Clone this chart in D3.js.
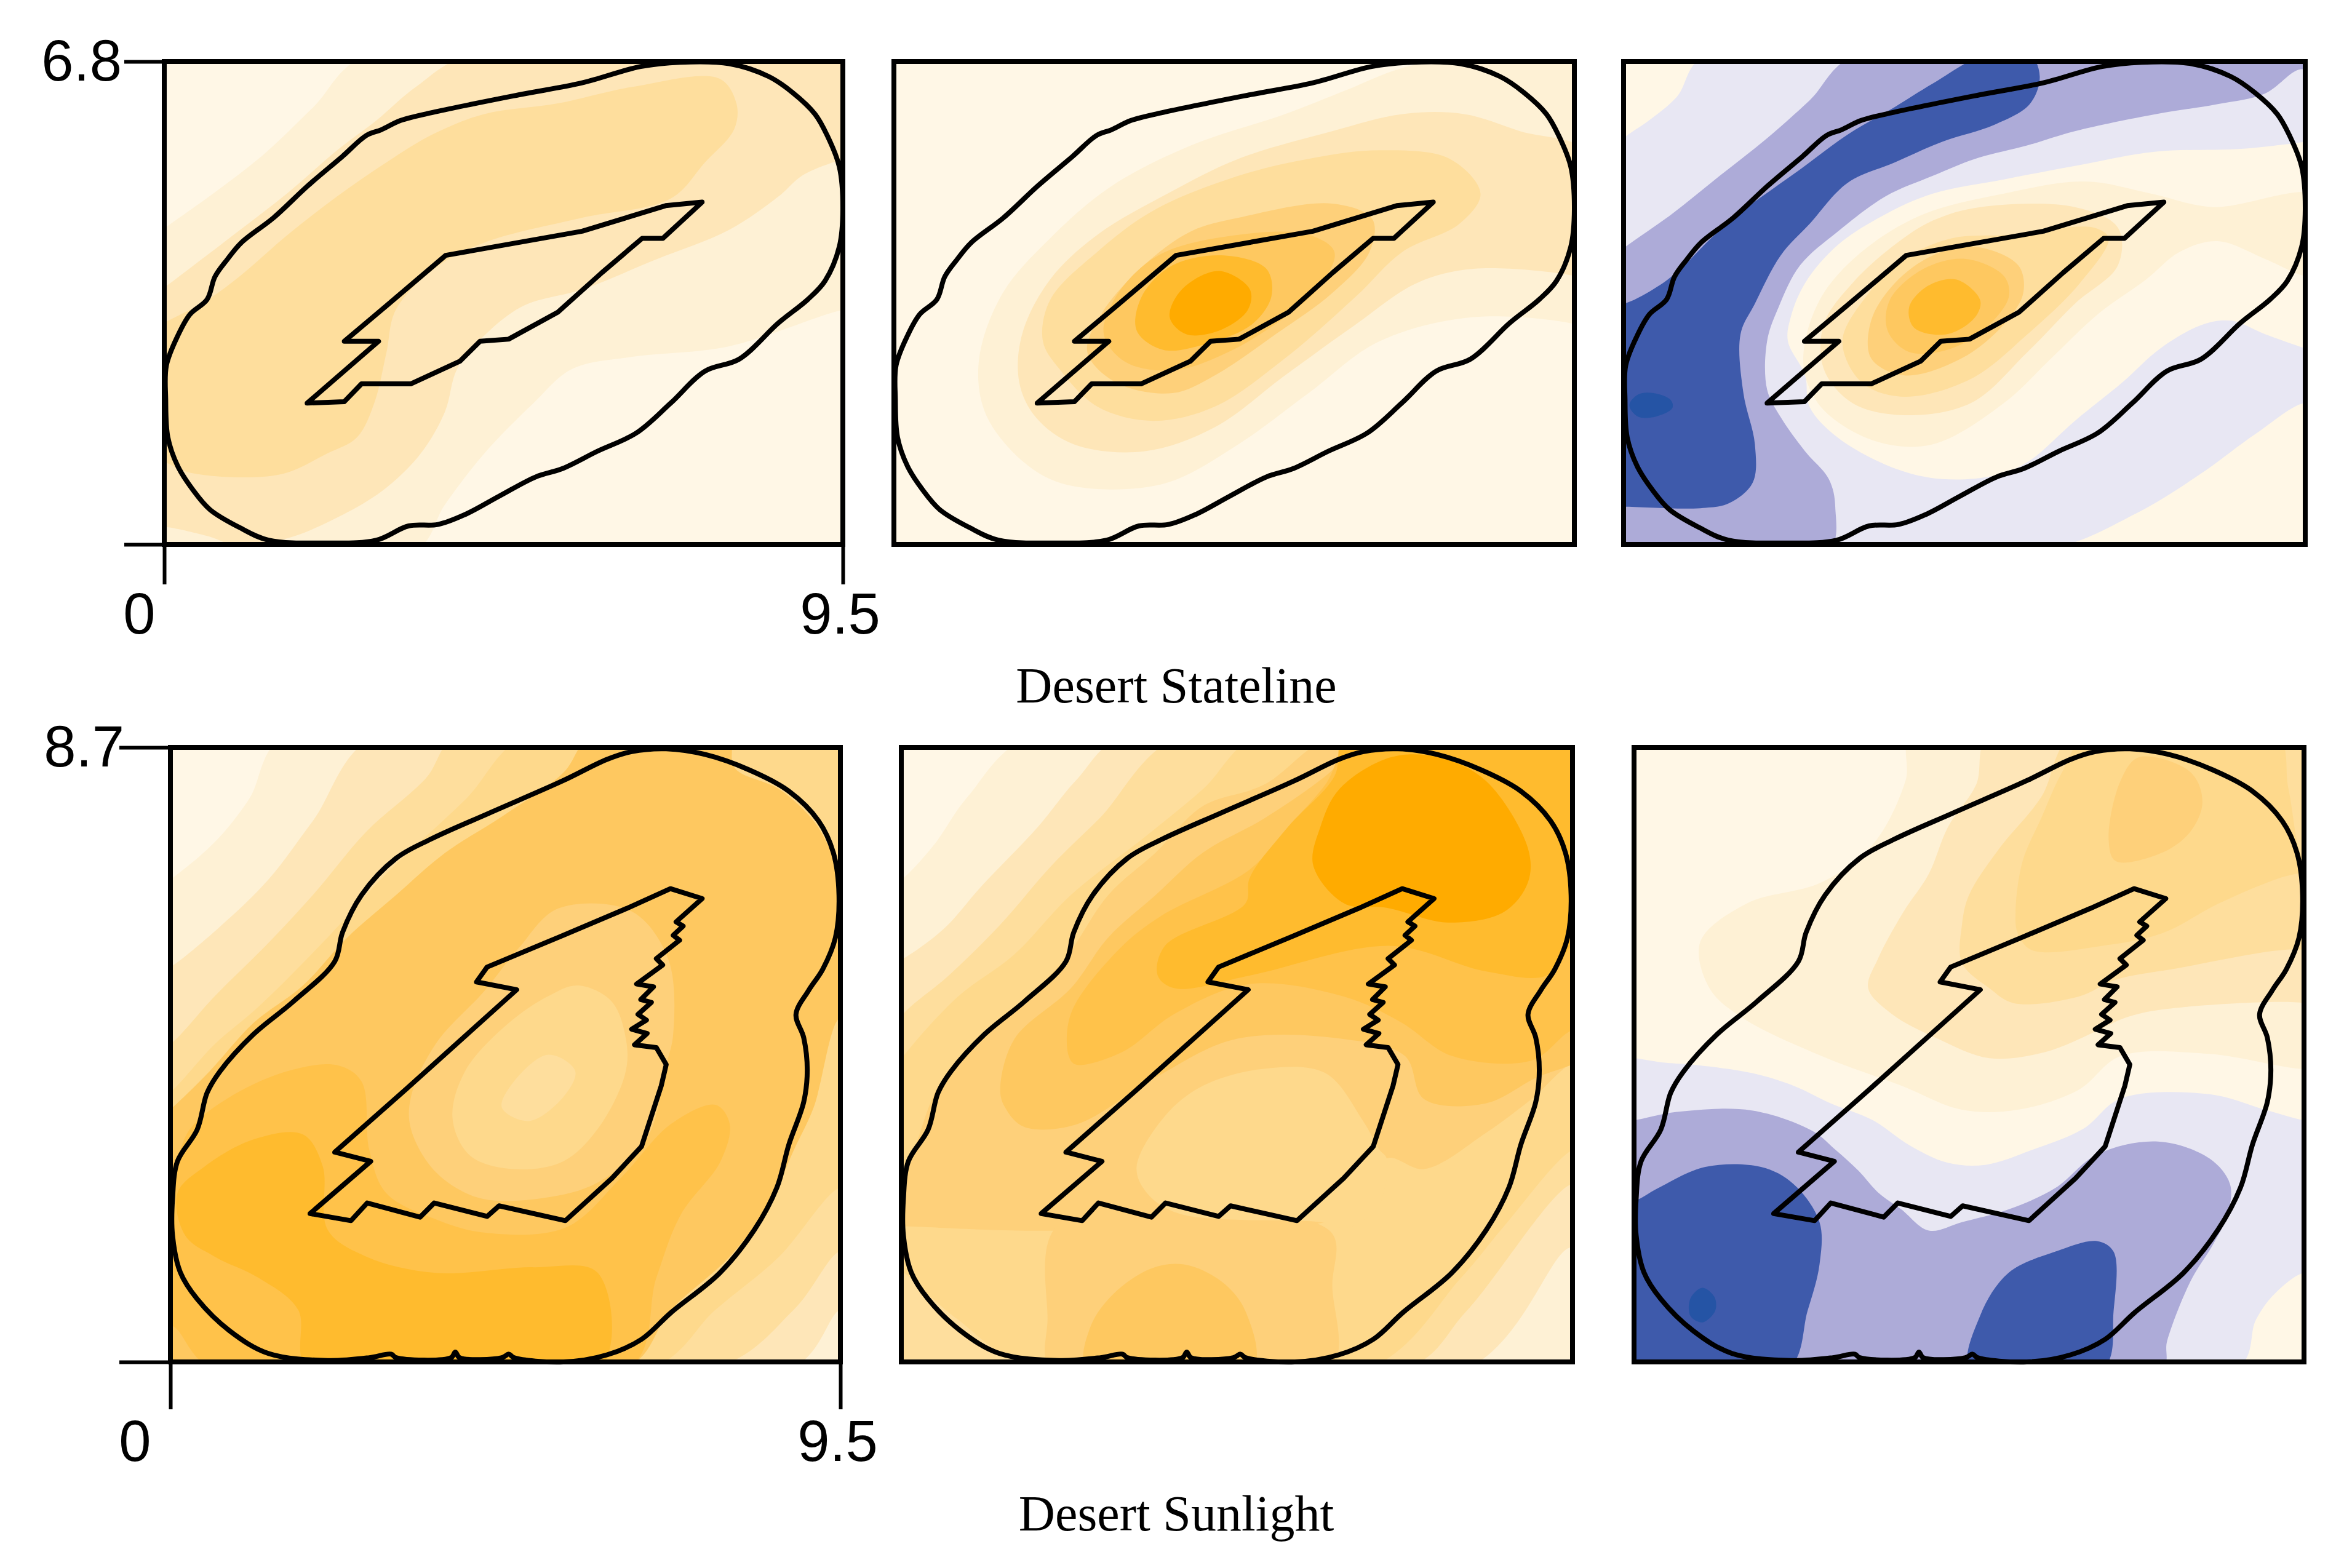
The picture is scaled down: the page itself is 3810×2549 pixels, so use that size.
<!DOCTYPE html>
<html>

<head>
    <meta charset="utf-8" />
    <title>Desert Stateline and Desert Sunlight</title>
    <style>
        html, body {
            margin: 0;
            padding: 0;
            background: #fff;
        }
    </style>
</head>

<body>
    <svg width="3810" height="2549"></svg>
    <script src="https://d3js.org/d3.v7.min.js"></script>
    <script>
        // site extents, as labelled on the axes
        var xMax = 9.5,
            yMaxStateline = 6.8,
            yMaxSunlight = 8.7;

        var captions = ["Desert Stateline", "Desert Sunlight"];
        var tickLabelsX = ["0", "9.5"];
        var tickLabelsY = ["6.8", "8.7"];

        // band classes: -4 strongest blue ... 0 neutral ... 9 strongest orange
        var bandLevels = [-4, -3, -2, -1, 0, 1, 2, 3, 4, 5, 6, 7, 8, 9];
        var bandColors = ["#2554A5", "#3E5AAB", "#ADABD8", "#E8E7F3", "#FFF7E6", "#FEF1D5", "#FEE6B8", "#FEDE9D",
            "#FED98C", "#FED07A", "#FEC860", "#FFC24A", "#FFBB2E", "#FFAB00"];

        // site boundaries, in axis units
        var statelineOuter = [[6.67,6.73],[7.22,6.79],[7.91,6.77],[8.46,6.59],[8.80,6.36],[9.11,6.06],[9.28,5.76],[9.45,5.32],[9.50,4.72],[9.45,4.19],[9.25,3.71],[9.01,3.45],[8.60,3.12],[8.05,2.61],[7.57,2.44],[7.09,1.99],[6.61,1.57],[6.06,1.31],[5.58,1.07],[5.20,0.95],[4.69,0.68],[4.21,0.42],[3.83,0.28],[3.42,0.26],[2.97,0.06],[2.28,0.02],[1.46,0.06],[1.05,0.24],[0.64,0.49],[0.40,0.77],[0.19,1.10],[0.05,1.51],[0.02,2.05],[0.03,2.52],[0.19,2.94],[0.36,3.24],[0.60,3.45],[0.71,3.77],[0.88,4.01],[1.08,4.25],[1.53,4.60],[2.01,5.05],[2.49,5.46],[2.83,5.76],[3.04,5.84],[3.31,5.97],[3.79,6.09],[4.96,6.33],[5.85,6.50]];
        var statelineInner = [[3.94,4.07],[5.85,4.41],[7.02,4.77],[7.53,4.82],[6.98,4.31],[6.69,4.31],[6.13,3.83],[5.51,3.27],[4.82,2.89],[4.42,2.86],[4.14,2.58],[3.45,2.26],[2.76,2.26],[2.52,2.01],[2.00,1.99],[3.00,2.86],[2.52,2.86],[3.11,3.36]];
        var sunlightOuter = [[6.19,8.53],[6.54,8.64],[7.03,8.68],[7.58,8.60],[8.21,8.38],[8.77,8.08],[9.19,7.66],[9.40,7.21],[9.48,6.61],[9.43,6.01],[9.25,5.56],[9.05,5.26],[8.87,4.92],[8.98,4.59],[9.03,4.13],[8.98,3.68],[8.77,3.08],[8.60,2.47],[8.28,1.87],[7.79,1.26],[7.10,0.70],[6.68,0.32],[6.19,0.10],[5.57,0.00],[4.87,0.06],[4.80,0.11],[4.70,0.06],[4.10,0.06],[4.04,0.14],[3.98,0.06],[3.20,0.06],[3.13,0.11],[2.82,0.06],[2.23,0.02],[1.39,0.12],[0.84,0.44],[0.38,0.89],[0.14,1.27],[0.03,1.79],[0.03,2.31],[0.10,2.84],[0.38,3.29],[0.52,3.81],[0.70,4.11],[1.18,4.64],[1.74,5.10],[2.33,5.67],[2.44,6.08],[2.71,6.61],[3.20,7.13],[3.69,7.40],[4.52,7.77],[5.57,8.23]];
        var sunlightInner = [[4.49,5.59],[5.50,6.01],[6.47,6.42],[7.09,6.70],[7.54,6.56],[7.17,6.23],[7.27,6.17],[7.13,6.04],[7.22,5.97],[6.89,5.71],[6.98,5.62],[6.61,5.35],[6.85,5.31],[6.67,5.13],[6.82,5.09],[6.63,4.92],[6.75,4.84],[6.54,4.71],[6.76,4.65],[6.58,4.49],[6.89,4.45],[7.03,4.21],[6.96,3.91],[6.68,3.05],[6.26,2.60],[5.60,2.00],[4.66,2.21],[4.49,2.06],[3.74,2.25],[3.54,2.05],[2.79,2.25],[2.56,2.00],[1.98,2.10],[2.84,2.84],[2.33,2.97],[3.34,3.86],[4.91,5.27],[4.34,5.38]];

        // filled classes per panel, painted in order: [level, boundary]
        var statelineA = [
            [1, [[-.2,4.3],[0,4.45],[.71,4.96],[1.39,5.49],[2.08,6.15],[2.85,6.9],[9.7,6.9],[9.7,3.3],[9.5,3.30],[7.91,2.79],[6.54,2.64],[5.71,2.47],[5.17,1.99],[4.48,1.28],[3.93,.56],[3.5,-.1],[-.2,-.1]]],
            [2, [[-.2,3.5],[0,3.62],[.36,3.89],[1.05,4.42],[1.74,4.96],[2.42,5.55],[2.97,5.97],[3.52,6.44],[4.3,6.9],[9.7,6.9],[9.7,5.5],[9.5,5.43],[8.94,5.20],[8.60,4.90],[7.91,4.43],[6.88,4.01],[5.85,3.59],[5.03,3.36],[4.48,2.94],[4.10,2.47],[3.93,1.87],[3.59,1.28],[3.11,.80],[2.56,.45],[1.74,.09],[1.05,-.02],[.6,.12],[0,.25],[-.2,.25]]],
            [3, [[-.2,3.0],[0,3.12],[.57,3.42],[1.05,3.77],[1.74,4.37],[2.42,4.90],[3.11,5.38],[3.79,5.79],[4.48,6.06],[5.51,6.21],[6.54,6.44],[7.77,6.56],[8.01,6.21],[7.98,5.85],[7.57,5.38],[7.09,4.87],[5.85,4.60],[4.48,4.25],[3.79,3.89],[3.24,3.30],[3.11,2.70],[2.94,1.99],[2.70,1.51],[2.28,1.28],[1.60,.98],[.36,1.01],[0,1.16],[-.2,1.2]]]
        ];
        var statelineB = [
            [1, [[8.2,6.9],[9.7,6.9],[9.7,3],[9.5,3.10],[8.09,3.20],[6.78,2.86],[5.79,2.13],[4.81,1.41],[3.82,.87],[2.84,.78],[2.18,.92],[1.65,1.31],[1.26,1.89],[1.19,2.62],[1.52,3.54],[2.18,4.31],[3.03,5.04],[4.15,5.62],[5.46,6.06],[6.32,6.40],[7.10,6.71]]],
            [2, [[7.10,6.06],[7.96,6.06],[8.74,5.82],[9.7,5.5],[9.7,3.7],[9.5,3.78],[8.09,3.88],[7.30,3.68],[6.45,3.10],[5.46,2.38],[4.48,1.65],[3.49,1.31],[2.51,1.41],[1.98,1.79],[1.75,2.28],[1.79,2.96],[2.18,3.73],[2.84,4.36],[3.82,4.94],[4.81,5.43],[6.12,5.82]]],
            [3, [[6.78,5.55],[7.76,5.43],[8.19,4.94],[7.89,4.51],[7.10,4.12],[6.45,3.49],[5.46,2.62],[4.48,1.94],[3.62,1.74],[2.84,1.94],[2.31,2.47],[2.08,2.86],[2.18,3.44],[2.84,4.12],[3.62,4.70],[4.81,5.19],[5.79,5.43]]],
            [5, [[4.81,4.60],[6.12,4.80],[6.68,4.58],[6.64,4.12],[6.12,3.54],[5.33,2.96],[4.48,2.38],[3.89,2.13],[3.10,2.28],[2.70,2.71],[2.90,3.25],[3.49,3.93],[4.15,4.41]]],
            [6, [[4.81,4.36],[5.79,4.36],[6.15,4.12],[5.95,3.64],[5.46,3.20],[4.67,2.71],[3.89,2.45],[3.23,2.57],[2.93,2.96],[3.10,3.49],[3.69,4.07]]],
            [8, [[4.61,4.07],[5.20,3.88],[5.27,3.49],[5.00,3.10],[4.41,2.84],[3.76,2.74],[3.39,3.01],[3.46,3.49],[3.89,3.93]]],
            [9, [[4.54,3.85],[4.97,3.59],[4.94,3.30],[4.54,3.01],[4.08,2.96],[3.85,3.20],[4.02,3.59]]]
        ];
        var statelineC = [
            [-1, [[-.2,5.5],[0,5.72],[.34,5.96],[.74,6.30],[1.15,6.9],[9.7,6.9],[9.7,1.9],[9.5,1.99],[8.80,1.55],[8.08,1.02],[7.15,.44],[5.8,-.1],[-.2,-.1]]],
            [-2, [[-.2,4.0],[0,4.17],[.67,4.65],[1.34,5.19],[2.00,5.72],[2.59,6.25],[3.25,6.9],[9.7,6.9],[9.7,6.6],[9.43,6.69],[8.94,6.35],[8.28,6.20],[7.42,6.06],[6.29,5.82],[5.63,5.62],[4.90,5.43],[4.31,5.19],[3.65,4.90],[2.99,4.41],[2.46,3.93],[2.16,3.34],[2.00,2.86],[2.00,2.18],[2.19,1.79],[2.53,1.31],[2.86,.92],[2.95,.53],[2.85,-.1],[-.2,-.1]]],
            [-3, [[-.2,3.4],[0,3.39],[.41,3.59],[.74,3.83],[1.27,4.36],[1.73,4.75],[2.46,5.28],[3.12,5.77],[3.78,6.16],[4.31,6.49],[5.05,6.9],[5.66,6.9],[5.80,6.59],[5.66,6.20],[5.17,5.91],[4.44,5.67],[3.78,5.38],[3.12,5.09],[2.59,4.51],[2.19,4.07],[1.83,3.39],[1.63,2.96],[1.67,2.13],[1.83,1.41],[1.80,.87],[1.47,.58],[1.07,.51],[0,.53],[-.2,.53]]],
            [-4, [[.08,1.96],[.2,2.11],[.42,2.13],[.66,2.03],[.68,1.92],[.45,1.80],[.2,1.8]]],
            [0, [[9.7,5.7],[9.5,5.67],[8.61,5.57],[7.42,5.53],[6.29,5.33],[5.30,5.14],[4.31,4.94],[3.65,4.65],[2.99,4.22],[2.53,3.68],[2.33,3.20],[2.29,2.86],[2.53,2.38],[2.59,1.94],[2.99,1.50],[3.78,1.07],[4.44,.92],[5.17,.97],[5.63,1.16],[6.29,1.74],[6.95,2.28],[7.48,2.76],[8.08,3.10],[8.47,3.15],[8.94,2.96],[9.5,2.76],[9.7,2.7]]],
            [1, [[6.43,5.11],[7.35,4.94],[8.21,4.75],[9.7,4.9],[9.7,3.8],[9.5,3.78],[8.94,4.02],[8.28,4.27],[7.75,4.12],[7.28,3.73],[6.62,3.25],[5.96,2.62],[5.30,1.99],[4.31,1.41],[3.52,1.45],[2.79,1.89],[2.53,2.38],[2.53,2.86],[2.79,3.54],[3.38,4.17],[4.18,4.65],[5.30,4.94]]],
            [2, [[4.97,4.75],[6.29,4.75],[6.89,4.46],[6.89,3.93],[6.29,3.39],[5.63,2.71],[4.84,1.99],[3.91,1.82],[3.19,1.99],[2.79,2.47],[2.79,3.10],[3.19,3.68],[3.78,4.22],[4.31,4.56]]],
            [3, [[5.37,4.36],[6.56,4.46],[6.76,4.31],[6.36,3.68],[5.63,2.96],[4.84,2.33],[3.91,2.08],[3.32,2.28],[3.05,2.86],[3.38,3.49],[3.91,4.02],[4.57,4.31]]],
            [5, [[4.90,4.19],[5.50,3.93],[5.57,3.54],[5.30,3.10],[4.71,2.62],[3.91,2.38],[3.45,2.62],[3.45,3.15],[3.78,3.68],[4.31,4.07]]],
            [6, [[4.77,4.02],[5.30,3.78],[5.37,3.49],[5.10,3.10],[4.57,2.76],[3.98,2.71],[3.68,3.01],[3.71,3.44],[4.18,3.88]]],
            [8, [[4.64,3.73],[4.97,3.44],[4.90,3.20],[4.51,2.96],[4.05,3.05],[3.98,3.34],[4.24,3.64]]]
        ];
        var sunlightA = [
            [1, [[-.2,6.7],[.03,6.85],[.63,7.36],[1.11,7.96],[1.65,8.9],[9.7,8.9],[9.7,-.1],[-.2,-.1]]],
            [2, [[-.2,5.5],[0,5.59],[.70,6.16],[1.39,6.83],[2.02,7.66],[2.95,8.9],[9.7,8.9],[9.7,.7],[9.5,.74],[8.8,-.1],[-.2,-.1]]],
            [3, [[-.2,4.4],[0,4.50],[.63,5.18],[1.32,5.86],[2.02,6.61],[2.78,7.51],[3.62,8.26],[4.1,8.9],[9.7,8.9],[9.7,1.5],[9.5,1.57],[8.84,.74],[7.7,-.1],[-.2,-.1]]],
            [4, [[-.2,3.7],[0,3.82],[.63,4.50],[1.25,5.03],[2.23,6.01],[3.06,6.91],[4.18,7.96],[5.1,8.9],[9.7,8.9],[9.7,2.4],[9.5,2.47],[8.63,1.49],[7.73,.74],[6.8,-.1],[-.2,-.1]]],
            [6, [[-.2,3.4],[.03,3.60],[.56,4.12],[1.18,4.80],[1.88,5.33],[2.51,6.01],[3.20,6.61],[3.90,7.21],[4.73,7.74],[5.57,8.34],[6.0,8.9],[7.9,8.9],[8.00,8.41],[8.63,8.11],[9.12,7.66],[9.5,7.06],[9.7,7.0],[9.7,4.8],[9.5,4.88],[9.12,3.60],[8.84,3.00],[8.49,2.24],[7.93,1.49],[7.10,.74],[6.45,-.1],[-.2,-.1]]],
            [7, [[-.2,2.6],[0,2.69],[.28,3.30],[.84,3.75],[1.67,4.12],[2.37,4.20],[2.71,3.97],[2.82,3.00],[3.06,2.39],[3.76,2.02],[4.45,1.83],[5.60,1.90],[6.40,2.62],[7.10,3.37],[7.73,3.64],[7.93,3.37],[7.80,2.84],[7.24,2.09],[6.89,1.19],[6.5,-.1],[.6,-.1],[.03,.51],[-.2,.5]]],
            [8, [[.10,2.39],[.49,2.77],[1.18,3.15],[1.88,3.22],[2.16,2.77],[2.23,1.87],[2.78,1.49],[3.76,1.26],[5.15,1.34],[6.06,1.26],[6.09,-.1],[1.95,-.1],[1.81,.74],[1.25,1.19],[.63,1.49],[.21,1.79]]],
            [5, [[5.50,6.42],[6.54,6.38],[7.06,5.70],[7.13,4.65],[7.03,4.20],[6.75,3.15],[6.06,2.54],[5.29,2.32],[4.38,2.32],[3.76,2.69],[3.41,3.30],[3.41,3.75],[3.76,4.50],[4.45,5.25],[4.94,5.86]]],
            [4, [[5.78,5.33],[6.26,5.10],[6.47,4.50],[6.44,4.05],[6.06,3.30],[5.57,2.84],[4.87,2.73],[4.25,2.92],[4.00,3.45],[4.18,4.12],[4.80,4.80],[5.36,5.18]]],
            [3, [[5.36,4.35],[5.74,4.12],[5.57,3.75],[5.08,3.41],[4.70,3.60],[4.87,3.97]]]
        ];
        var sunlightB = [
            [1, [[-.2,6.7],[.03,6.85],[.47,7.33],[.93,7.99],[1.9,8.9],[9.7,8.9],[9.7,-.1],[-.2,-.1]]],
            [2, [[-.2,5.6],[.03,5.71],[.60,6.13],[1.13,6.73],[1.93,7.57],[2.47,8.23],[3.2,8.9],[9.7,8.9],[9.7,1.5],[9.47,1.62],[8.0,-.1],[-.2,-.1]]],
            [3, [[-.2,4.6],[.03,4.93],[.67,5.47],[1.40,6.19],[2.13,7.03],[2.80,7.69],[4.0,8.9],[9.7,8.9],[9.7,2.4],[9.5,2.52],[8.00,.72],[7.15,-.1],[-.2,-.1]]],
            [4, [[-.2,4.0],[.03,4.33],[.80,5.17],[1.60,5.77],[2.40,6.61],[3.47,7.45],[4.27,8.11],[5.1,8.9],[9.7,8.9],[9.7,3.0],[9.5,3.00],[8.53,1.92],[7.93,1.20],[6.6,-.1],[1.8,-.05],[.80,.60],[.37,.96],[.03,1.26],[-.2,1.3]]],
            [5, [[-.2,2.6],[.03,2.70],[.53,3.91],[1.13,4.57],[2.27,5.65],[2.93,6.61],[3.60,7.21],[4.27,7.87],[5.13,8.17],[6.2,8.9],[9.7,8.9],[9.7,4.1],[9.5,4.21],[8.93,3.73],[8.27,3.24],[7.40,2.73],[6.87,2.88],[6.5,2.15],[2.23,1.86],[.03,1.92],[-.2,1.92]]],
            [5, [[2.23,1.95],[6.07,1.85],[6.10,1.08],[6.07,-.1],[2.13,-.1],[2.07,.60]]],
            [4, [[3.33,2.76],[3.73,3.48],[4.27,3.91],[5.13,4.15],[6.00,4.09],[6.53,3.42],[6.77,3.00],[6.87,2.88],[6.75,2.2],[6.3,1.9],[5.93,1.98],[3.93,2.10],[3.47,2.40]]],
            [6, [[2.63,-.1],[2.67,.48],[3.00,.96],[3.53,1.32],[4.00,1.38],[4.53,1.14],[4.87,.72],[4.97,-.1]]],
            [6, [[1.40,3.85],[1.60,4.57],[2.40,5.29],[2.93,6.01],[3.60,6.61],[4.27,7.21],[5.13,7.69],[6.00,8.29],[6.7,8.9],[9.7,8.9],[9.7,4.3],[9.5,4.21],[9.00,4.03],[8.27,3.66],[7.40,3.72],[7.13,4.33],[6.27,4.57],[4.73,4.57],[3.60,4.03],[2.47,3.36],[1.73,3.33],[1.47,3.60]]],
            [7, [[2.37,4.33],[2.40,4.93],[3.07,5.83],[3.67,6.31],[4.93,6.97],[5.47,7.57],[6.00,8.17],[6.45,8.9],[9.7,8.9],[9.7,4.6],[9.5,4.69],[8.93,4.27],[7.80,4.33],[7.07,4.81],[6.27,5.17],[4.93,5.35],[3.87,4.93],[3.13,4.39],[2.47,4.21]]],
            [8, [[3.63,5.47],[3.73,5.89],[4.87,6.49],[4.93,6.85],[5.47,7.57],[6.13,8.29],[6.30,8.9],[9.7,8.9],[9.7,5.9],[9.5,5.89],[9.13,5.47],[8.27,5.53],[6.93,5.89],[4.93,5.47],[3.87,5.29]]],
            [9, [[5.83,7.03],[5.93,7.57],[6.20,8.11],[6.93,8.56],[7.60,8.56],[8.27,8.23],[8.87,7.27],[8.87,6.79],[8.53,6.37],[7.73,6.22],[6.87,6.43],[6.27,6.49]]]
        ];
        var sunlightC = [
            [1, [[3.95,8.9],[9.7,8.9],[9.7,4.2],[9.5,4.15],[8.16,4.36],[6.90,4.33],[6.30,3.85],[5.44,3.57],[4.65,3.57],[3.79,3.91],[2.66,4.33],[1.54,4.87],[1.07,5.29],[.94,5.95],[1.60,6.49],[2.66,6.79],[3.39,7.33],[3.85,8.23]]],
            [2, [[5.05,8.9],[9.7,8.9],[9.7,5.0],[9.5,5.08],[7.49,4.99],[6.96,4.87],[6.57,4.69],[5.84,4.39],[5.04,4.30],[4.32,4.57],[3.65,4.93],[3.32,5.29],[3.46,5.71],[3.82,6.37],[4.18,6.91],[4.45,7.57],[4.85,8.17]]],
            [3, [[6.25,8.9],[9.7,8.9],[9.7,5.7],[9.5,5.83],[7.63,5.56],[6.83,5.41],[6.30,5.17],[5.38,5.08],[5.04,5.29],[4.65,5.65],[4.65,6.19],[4.75,6.61],[5.18,7.27],[5.77,7.99]]],
            [4, [[5.41,6.37],[5.51,7.09],[5.77,7.69],[6.07,8.35],[6.45,8.9],[9.1,8.9],[9.28,8.11],[9.5,7.09],[9.7,7.0],[9.15,6.85],[8.29,6.49],[7.49,6.07],[6.63,5.89],[5.64,5.83],[5.44,6.07]]],
            [5, [[6.73,7.39],[6.90,8.23],[7.16,8.56],[7.89,8.35],[8.06,7.93],[7.89,7.51],[7.49,7.21],[6.83,7.09]]],
            [-1, [[-.2,4.3],[0,4.30],[.41,4.24],[.81,4.21],[1.67,4.09],[2.26,3.91],[2.79,3.66],[3.39,3.42],[3.92,3.06],[4.45,2.82],[4.98,2.79],[5.64,3.00],[6.37,3.30],[6.90,3.73],[8.16,3.79],[8.95,3.57],[9.5,3.42],[9.7,3.4],[9.7,1.2],[9.5,1.26],[9.08,.96],[8.82,.60],[8.55,-.1],[-.2,-.1]]],
            [-2, [[-.2,3.4],[0,3.42],[.61,3.54],[1.67,3.56],[2.53,3.27],[2.86,3.00],[3.19,2.70],[3.46,2.40],[3.79,2.16],[4.18,1.86],[4.65,1.98],[5.31,2.16],[5.97,2.46],[6.57,2.94],[7.43,3.12],[8.16,2.88],[8.45,2.52],[8.42,2.10],[8.22,1.68],[7.89,1.14],[7.56,.30],[7.48,-.1],[-.2,-.1]]],
            [-3, [[-.2,2.3],[0,2.28],[.34,2.46],[1.01,2.76],[1.80,2.76],[2.26,2.52],[2.63,1.98],[2.63,1.38],[2.46,.72],[2.18,-.1],[-.2,-.1]]],
            [-3, [[4.77,-.1],[4.91,.66],[5.31,1.26],[5.97,1.56],[6.57,1.71],[6.80,1.56],[6.80,.72],[6.65,-.1]]],
            [-4, [[.97,1.05],[1.14,.92],[1.15,.72],[.97,.56],[.80,.65],[.8,.9]]]
        ];

        var svg = d3.select("svg");
        var levelColor = d3.scaleOrdinal(bandLevels, bandColors);

        var rows = [
            { yMax: yMaxStateline, top: 100, bottom: 885, outer: statelineOuter, inner: statelineInner,
              panels: [[267, 1370, statelineA], [1453, 2559, statelineB], [2639, 3747, statelineC]] },
            { yMax: yMaxSunlight, top: 1215, bottom: 2214, outer: sunlightOuter, inner: sunlightInner,
              panels: [[277, 1366, sunlightA], [1465, 2556, sunlightB], [2656, 3745, sunlightC]] }
        ];

        rows.forEach(function (row, r) {
            var y = d3.scaleLinear().domain([0, row.yMax]).range([row.bottom, row.top]);

            row.panels.forEach(function (panel, p) {
                var x = d3.scaleLinear().domain([0, xMax]).range([panel[0], panel[1]]);
                var id = "clip" + r + p;

                svg.append("clipPath").attr("id", id)
                    .append("rect")
                    .attr("x", x(0)).attr("y", y(row.yMax))
                    .attr("width", x(xMax) - x(0)).attr("height", y(0) - y(row.yMax));

                var smooth = d3.line().x(function (d) { return x(d[0]); }).y(function (d) { return y(d[1]); })
                    .curve(d3.curveCatmullRomClosed.alpha(0.5));
                var plain = d3.line().x(function (d) { return x(d[0]); }).y(function (d) { return y(d[1]); })
                    .curve(d3.curveLinearClosed);

                var g = svg.append("g");
                g.append("rect")
                    .attr("x", x(0)).attr("y", y(row.yMax))
                    .attr("width", x(xMax) - x(0)).attr("height", y(0) - y(row.yMax))
                    .attr("fill", levelColor(0));

                g.append("g").attr("clip-path", "url(#" + id + ")")
                    .selectAll("path").data(panel[2]).enter().append("path")
                    .attr("d", function (d) { return smooth(d[1]); })
                    .attr("fill", function (d) { return levelColor(d[0]); });

                // outer buffer is rounded, the site itself has hard corners
                g.append("path")
                    .attr("d", smooth(row.outer))
                    .attr("fill", "none")
                    .attr("stroke", "#000")
                    .attr("stroke-width", 8);
                g.append("path")
                    .attr("d", plain(row.inner))
                    .attr("fill", "none")
                    .attr("stroke", "#000")
                    .attr("stroke-width", 8)
                    .attr("stroke-linejoin", "round");

                g.append("rect")
                    .attr("x", x(0)).attr("y", y(row.yMax))
                    .attr("width", x(xMax) - x(0)).attr("height", y(0) - y(row.yMax))
                    .attr("fill", "none")
                    .attr("stroke", "#000")
                    .attr("stroke-width", 8);

                if (p == 0) {
                    var axisY = svg.append("g")
                        .attr("transform", "translate(" + x(0) + ",0)")
                        .call(d3.axisLeft(y).tickValues([0, row.yMax]).tickSize(r == 0 ? 65 : 83).tickPadding(r == 0 ? 4 : -8)
                            .tickFormat(function (d) { return d ? tickLabelsY[r] : ""; }));
                    var axisX = svg.append("g")
                        .attr("transform", "translate(0," + y(0) + ")")
                        .call(d3.axisBottom(x).tickValues([0, xMax]).tickSize(r == 0 ? 65 : 77).tickPadding(r == 0 ? 13 : 17)
                            .tickFormat(function (d, i) { return tickLabelsX[i]; }));

                    [axisY, axisX].forEach(function (a) {
                        a.select(".domain").remove();
                        a.selectAll("line").attr("stroke", "#000").attr("stroke-width", 6);
                        a.selectAll("text").attr("fill", "#000")
                            .style("font-family", "'Liberation Sans', Arial, sans-serif")
                            .style("font-size", "94px");
                    });
                    axisX.selectAll("text").attr("dx", function (d) { return d ? -5 : (r == 0 ? -41 : -58); });
                }
            });

            svg.append("text")
                .attr("x", 1912)
                .attr("y", r == 0 ? 1142 : 2488)
                .attr("text-anchor", "middle")
                .style("font-family", "'Liberation Serif', serif")
                .style("font-size", "82px")
                .text(captions[r]);
        });
    </script>
</body>

</html>
